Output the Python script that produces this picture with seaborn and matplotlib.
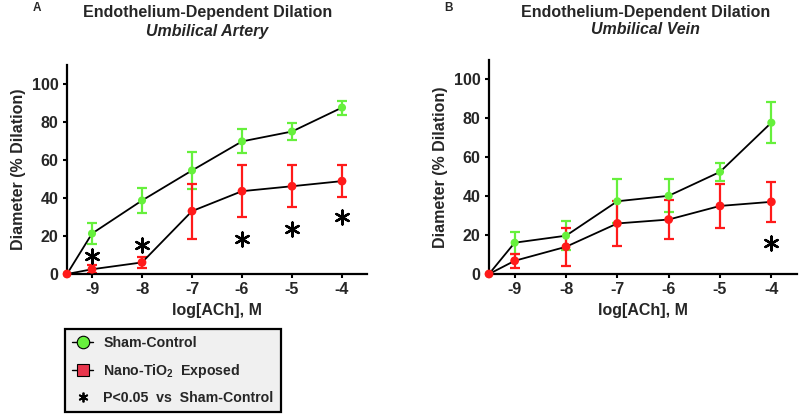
# Endothelium-dependent dilation of umbilical artery and vein, sham vs nano-TiO2 exposed.

import matplotlib.pyplot as plt
import seaborn as sns
from matplotlib.lines import Line2D

# Data (x = -9.5 is the baseline point)
log_ach = [-9.5, -9, -8, -7, -6, -5, -4]
tick_vals = [-9, -8, -7, -6, -5, -4]

artery_sham = [0, 21.3, 38.7, 54.5, 69.8, 75.0, 87.6]
artery_sham_err = [0, 5.5, 6.5, 9.5, 6.3, 4.4, 3.7]
artery_tio2 = [0, 2.5, 6.1, 33.1, 43.6, 46.2, 48.9]
artery_tio2_err = [0, 2.0, 3.0, 14.5, 13.8, 11.0, 8.4]
artery_star_x = [-9, -8, -6, -5, -4]
artery_star_y = [9.4, 15.2, 18.3, 23.6, 30.0]

vein_sham = [0, 16.1, 19.7, 37.4, 40.2, 52.5, 77.8]
vein_sham_err = [0, 5.6, 7.5, 11.2, 8.5, 4.8, 10.7]
vein_tio2 = [0, 6.8, 14.0, 26.0, 28.0, 35.0, 37.1]
vein_tio2_err = [0, 3.7, 9.8, 11.5, 10.0, 11.4, 10.3]
vein_star_x = [-4]
vein_star_y = [15.7]

# Colors
green = "#66f03c"
red = "#ff1a1a"
legend_red = "#e8364d"

sns.set_style("ticks")
plt.rcParams['font.family'] = ['Liberation Sans', 'DejaVu Sans']
plt.rcParams['font.weight'] = 'bold'
plt.rcParams['mathtext.fontset'] = 'custom'
plt.rcParams['mathtext.bf'] = 'Liberation Sans:bold'
plt.rcParams['mathtext.rm'] = 'Liberation Sans:bold'

fig = plt.figure(figsize=(8, 4.16), dpi=100)
ax_a = fig.add_axes([0.08375, 0.3413, 0.375, 0.5024])
ax_b = fig.add_axes([0.61125, 0.3413, 0.385, 0.5144])

panels = [
    (ax_a, artery_sham, artery_sham_err, artery_tio2, artery_tio2_err, artery_star_x, artery_star_y),
    (ax_b, vein_sham, vein_sham_err, vein_tio2, vein_tio2_err, vein_star_x, vein_star_y),
]

for ax, sham, sham_err, tio2, tio2_err, sx, sy in panels:
    for y, err, col in [(sham, sham_err, green), (tio2, tio2_err, red)]:
        ax.errorbar(log_ach[1:], y[1:], yerr=err[1:], fmt='none', ecolor=col,
                    elinewidth=1.6, capsize=3.6, capthick=1.6, zorder=2)
        sns.lineplot(x=log_ach, y=y, ax=ax, color='black', lw=1.3, zorder=3)
    sns.scatterplot(x=log_ach, y=sham, ax=ax, color=green, s=34, edgecolor='none',
                    zorder=4, clip_on=False)
    sns.scatterplot(x=log_ach, y=tio2, ax=ax, color=red, s=40, edgecolor='none',
                    zorder=5, clip_on=False)
    ax.scatter(sx, sy, marker=(6, 2, 0), s=100, color='black', linewidths=1.7, zorder=5)

    ax.set_xlim(-9.5, -3.5)
    ax.set_ylim(0, 110)
    ax.set_xticks(tick_vals)
    ax.set_xticklabels([str(t) for t in tick_vals])
    ax.set_yticks([0, 20, 40, 60, 80, 100])
    ax.tick_params(axis='both', labelsize=11.5, width=1.5, length=3, color='black', pad=3)
    for lab in ax.get_xticklabels() + ax.get_yticklabels():
        lab.set_fontweight('bold')
    for side in ['left', 'bottom']:
        ax.spines[side].set_linewidth(1.6)
        ax.spines[side].set_color('black')
    sns.despine(ax=ax)
    ax.set_xlabel("log[ACh], M", fontsize=11.5, fontweight='bold', labelpad=4)
    ax.set_ylabel("Diameter (% Dilation)", fontsize=11.5, fontweight='bold', labelpad=4)

# Titles and panel letters
fig.text(0.259, 0.971, "Endothelium-Dependent Dilation", ha='center', va='center',
         fontsize=11.5, fontweight='bold')
fig.text(0.259, 0.925, "Umbilical Artery", ha='center', va='center',
         fontsize=11.5, fontweight='bold', style='italic')
fig.text(0.046, 0.981, "A", ha='center', va='center', fontsize=8.5, fontweight='bold')
fig.text(0.807, 0.971, "Endothelium-Dependent Dilation", ha='center', va='center',
         fontsize=11.5, fontweight='bold')
fig.text(0.807, 0.928, "Umbilical Vein", ha='center', va='center',
         fontsize=11.5, fontweight='bold', style='italic')
fig.text(0.56, 0.981, "B", ha='center', va='center', fontsize=8.5, fontweight='bold')

# Legend
handles = [
    Line2D([], [], color='black', lw=1, marker='o', markersize=9,
           markerfacecolor=green, markeredgecolor='black', markeredgewidth=0.8),
    Line2D([], [], color='black', lw=1, marker='s', markersize=9,
           markerfacecolor=legend_red, markeredgecolor='black', markeredgewidth=0.8),
    Line2D([], [], ls='none', marker=(6, 2, 0), markersize=7, color='black',
           markeredgewidth=1.3),
]
labels = ["Sham-Control", r"Nano-TiO$\mathbf{_2}$  Exposed", "P<0.05  vs  Sham-Control"]
leg = fig.legend(handles, labels, loc='lower left', bbox_to_anchor=(0.08125, 0.0096),
                 borderaxespad=0, fancybox=False, frameon=True, edgecolor='black',
                 facecolor='#f0f0f0', framealpha=1, fontsize=10.2, handlelength=1.5,
                 handletextpad=0.7, labelspacing=0.8, borderpad=0.5)
leg.get_frame().set_linewidth(1.6)
for t in leg.get_texts():
    t.set_fontweight('bold')

plt.savefig("out.png", dpi=100)
plt.close()
